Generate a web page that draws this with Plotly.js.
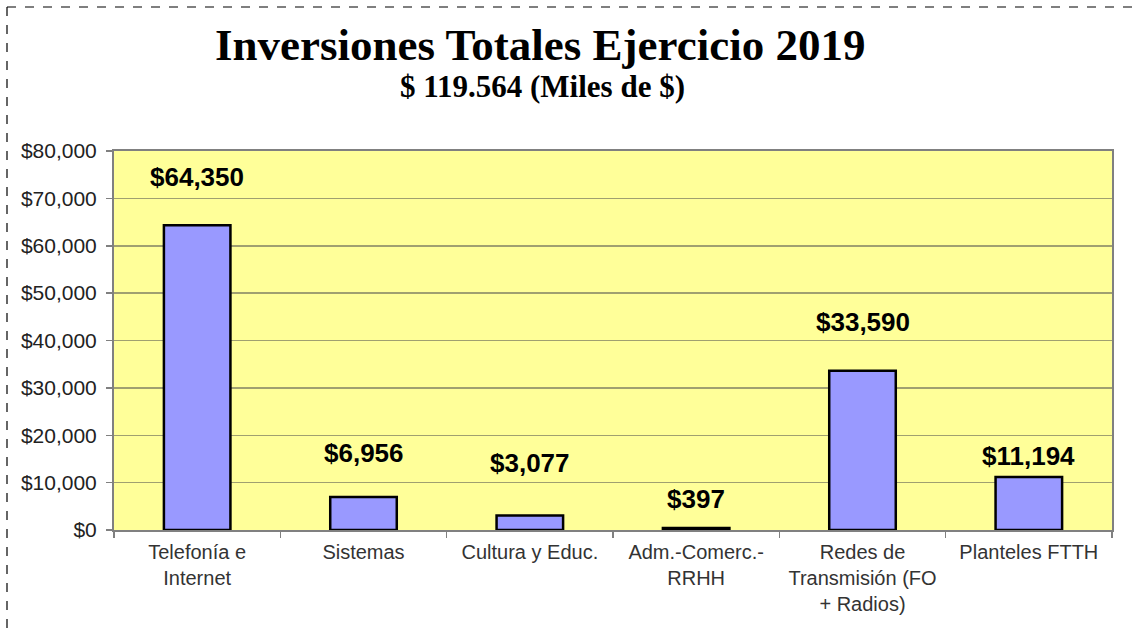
<!DOCTYPE html>
<html>
<head>
<meta charset="utf-8">
<script src="https://cdn.plot.ly/plotly-3.0.1.min.js"></script>
<style>
html,body{margin:0;padding:0;background:#fff;}
#chart{width:1132px;height:628px;}
</style>
</head>
<body>
<div id="chart"></div>
<script>
const categories = ["Telefonía e<br>Internet", "Sistemas", "Cultura y Educ.", "Adm.-Comerc.-<br>RRHH", "Redes de<br>Transmisión (FO<br>+ Radios)", "Planteles FTTH"];
const values = [64350, 6956, 3077, 397, 33590, 11194];
const labels = ["$64,350", "$6,956", "$3,077", "$397", "$33,590", "$11,194"];
const titleText = "Inversiones Totales Ejercicio 2019";
const subtitleText = "$ 119.564 (Miles de $)";

// label placement (pixels above bar top), as placed in the original chart
const labelShift = [31, 27, 35, 12, 32, 4];

const trace = {
  type: "bar",
  x: categories,
  y: values,
  width: 0.4,
  marker: {color: "#9999FF", line: {color: "#000000", width: 2.5}},
  hoverinfo: "x+y"
};

const annotations = values.map((v, i) => ({
  x: categories[i], y: v, xref: "x", yref: "y",
  text: "<b>" + labels[i] + "</b>", showarrow: false,
  yanchor: "bottom", yshift: labelShift[i],
  font: {family: "Liberation Sans, Arial, sans-serif", size: 26, color: "#000"}
}));
annotations.push({
  xref: "paper", yref: "paper", x: 0.427, y: 1.28, xanchor: "center", yanchor: "middle",
  text: "<b>" + titleText + "</b>", showarrow: false,
  font: {family: "Liberation Serif, Times New Roman, serif", size: 45, color: "#000"}
});
annotations.push({
  xref: "paper", yref: "paper", x: 0.429, y: 1.169, xanchor: "center", yanchor: "middle",
  text: "<b>" + subtitleText + "</b>", showarrow: false,
  font: {family: "Liberation Serif, Times New Roman, serif", size: 31, color: "#000"}
});

const layout = {
  width: 1132, height: 628,
  margin: {l: 114, r: 20, t: 151, b: 98},
  paper_bgcolor: "#ffffff",
  plot_bgcolor: "#FFFF99",
  showlegend: false,
  bargap: 0.6,
  xaxis: {
    type: "category",
    showline: true, linecolor: "#808080", linewidth: 2, mirror: true,
    ticks: "outside", tickson: "boundaries", ticklen: 6, tickcolor: "#808080", tickwidth: 1.5,
    ticklabelstandoff: 3,
    tickfont: {family: "Liberation Sans, Arial, sans-serif", size: 20, color: "#333"},
    showgrid: false
  },
  yaxis: {
    range: [0, 80000],
    tickvals: [0, 10000, 20000, 30000, 40000, 50000, 60000, 70000, 80000],
    tickformat: "$,.0f",
    showline: true, linecolor: "#808080", linewidth: 2, mirror: true,
    ticks: "outside", ticklen: 6, tickcolor: "#808080", tickwidth: 1.5,
    ticklabelstandoff: 5,
    tickfont: {family: "Liberation Sans, Arial, sans-serif", size: 21, color: "#222"},
    showgrid: true, gridcolor: "#A0A070", gridwidth: 1.5,
    zeroline: false,
    fixedrange: true
  },
  annotations: annotations,
  shapes: [
    {type: "line", xref: "paper", yref: "paper", x0: (7-114)/998, x1: (1132-114)/998, y0: (628-98-7)/379, y1: (628-98-7)/379,
     line: {color: "#000", width: 1.2, dash: "dash"}},
    {type: "line", xref: "paper", yref: "paper", x0: (7-114)/998, x1: (7-114)/998, y0: (628-98-7)/379, y1: (628-98-628)/379,
     line: {color: "#000", width: 1.2, dash: "dash"}}
  ]
};

Plotly.newPlot("chart", [trace], layout, {displayModeBar: false, staticPlot: true});
</script>
</body>
</html>
